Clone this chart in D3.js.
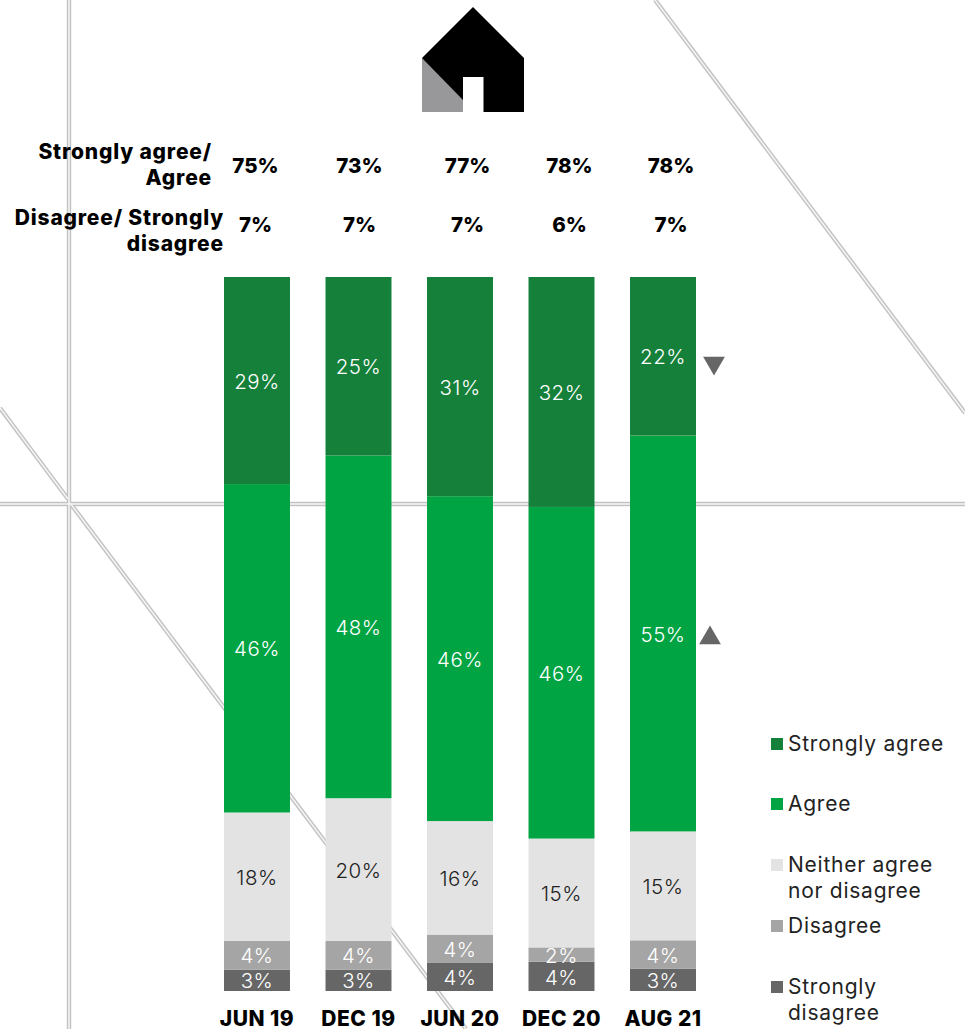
<!DOCTYPE html>
<html><head><meta charset="utf-8">
<script src="https://cdn.jsdelivr.net/npm/d3@7/dist/d3.min.js"></script>
<style>
html,body{margin:0;padding:0;background:#fff}
svg{display:block}
text{font-family:Inter,"Open Sans",sans-serif}
</style></head><body>
<svg id="c" width="965" height="1029"></svg>
<script>
const categories = ["JUN 19","DEC 19","JUN 20","DEC 20","AUG 21"];
const seriesNames = ["Strongly disagree","Disagree","Neither agree nor disagree","Agree","Strongly agree"];
const stronglyAgree = [29, 25, 30.7, 32.2, 22.2];
const agree = [46, 48, 45.5, 46.45, 55.45];
const neither = [18, 20, 15.9, 15.25, 15.25];
const disagree = [4, 4, 3.9, 2.0, 4.0];
const stronglyDisagree = [3, 3, 4.0, 4.1, 3.1];
const netAgree = ["75%","73%","77%","78%","78%"];
const netDisagree = ["7%","7%","7%","6%","7%"];

const colors = {"Strongly agree":"#15803a","Agree":"#00a443","Neither agree nor disagree":"#e3e3e3","Disagree":"#a5a5a5","Strongly disagree":"#666666"};
const labelColors = {"Strongly agree":"#fff","Agree":"#fff","Neither agree nor disagree":"#222","Disagree":"#fff","Strongly disagree":"#fff"};
const valuesBy = {"Strongly agree":stronglyAgree,"Agree":agree,"Neither agree nor disagree":neither,"Disagree":disagree,"Strongly disagree":stronglyDisagree};

const svg = d3.select("#c");
const x = d3.scaleBand().domain(categories).range([224,696]).paddingInner(0.35).paddingOuter(0);
const y = d3.scaleLinear().domain([0,100]).range([991,277]);

// background hairlines (double rule)
const rules = [[[69,0],[69,1029]],[[0,504],[965,504]],[[0,408],[68,499]],[[70,503],[466,1029]],[[655,0],[965,413]]];
const ln = d3.line();
const bg = svg.append("g");
bg.selectAll(".o").data(rules).join("path").attr("d",ln).attr("fill","none").attr("stroke","#c2c2c2").attr("stroke-width",4.4);
bg.selectAll(".i").data(rules).join("path").attr("d",ln).attr("fill","none").attr("stroke","#f4f4f4").attr("stroke-width",1.6);

// house icon
const icon = svg.append("g");
icon.append("path").attr("d",ln([[473,7],[524,58],[524,112],[422,112],[422,58]])).attr("fill","#000");
icon.append("path").attr("d",ln([[422,58],[463,100],[463,112],[422,112]])).attr("fill","#98989b");
icon.append("rect").attr("x",463).attr("y",77).attr("width",20.5).attr("height",35).attr("fill","#fff");

// stacked bars
const rows = categories.map((c,i)=>{const r={cat:c};seriesNames.forEach(s=>r[s]=valuesBy[s][i]);return r;});
const stacked = d3.stack().keys(seriesNames)(rows);
const layers = svg.append("g").selectAll("g").data(stacked).join("g");
layers.selectAll("rect").data(d=>d.map(p=>({p,key:d.key}))).join("rect")
  .attr("x",d=>x(d.p.data.cat)).attr("width",x.bandwidth())
  .attr("y",d=>y(d.p[1])).attr("height",d=>y(d.p[0])-y(d.p[1]))
  .attr("fill",d=>colors[d.key]);
layers.selectAll("text").data(d=>d.map(p=>({p,key:d.key}))).join("text")
  .attr("x",d=>x(d.p.data.cat)+x.bandwidth()/2)
  .attr("y",d=>(y(d.p[0])+y(d.p[1]))/2+0.8)
  .attr("dy","0.36em").attr("text-anchor","middle")
  .attr("font-size",20.5).attr("font-weight",300).attr("letter-spacing",0.5)
  .attr("fill",d=>labelColors[d.key])
  .text(d=>Math.round(d.p[1]-d.p[0])+"%");

// category axis
const ax = svg.append("g").attr("transform","translate(0,1018)")
  .call(d3.axisBottom(x).tickSize(0).tickPadding(0));
ax.select(".domain").remove();
ax.selectAll("text").attr("y",0).attr("dy","0.36em").attr("font-size",21).attr("font-weight",800)
  .attr("letter-spacing",0.5).attr("fill","#000").attr("font-family","Inter");

// net rows
const netOffsets = [-1.5,1,7.5,8,8];
const netRow = (vals,cy)=>svg.append("g").selectAll("text").data(vals).join("text")
  .attr("x",(d,i)=>x(categories[i])+x.bandwidth()/2+netOffsets[i]).attr("y",cy).attr("dy","0.36em")
  .attr("text-anchor","middle").attr("font-size",20.5).attr("font-weight",800).attr("fill","#000").text(d=>d);
netRow(netAgree,166); netRow(netDisagree,225);

const headers = [["Strongly agree/",212,151],["Agree",212,177],["Disagree/ Strongly",224,217],["disagree",224,243]];
svg.append("g").selectAll("text").data(headers).join("text")
  .attr("x",d=>d[1]).attr("y",d=>d[2]).attr("dy","0.36em").attr("text-anchor","end")
  .attr("font-size",21).attr("font-weight",800).attr("letter-spacing",0.82).attr("fill","#000").text(d=>d[0]);

// change markers
const sym = d3.symbol().type(d3.symbolTriangle).size(205);
svg.append("path").attr("d",sym).attr("transform","translate(714,363) rotate(180)").attr("fill","#666");
svg.append("path").attr("d",sym).attr("transform","translate(710,638)").attr("fill","#666");

// legend
const legendItems = [["Strongly agree",["Strongly agree"],744],["Agree",["Agree"],804],["Neither agree nor disagree",["Neither agree","nor disagree"],865],["Disagree",["Disagree"],926],["Strongly disagree",["Strongly","disagree"],987]];
const lg = svg.append("g").selectAll("g").data(legendItems).join("g");
lg.append("rect").attr("x",771).attr("y",d=>d[2]-6).attr("width",12).attr("height",12).attr("fill",d=>colors[d[0]]);
lg.each(function(d){
  d3.select(this).selectAll("text").data(d[1]).join("text")
    .attr("x",788).attr("y",(t,i)=>d[2]+i*26-0.3).attr("dy","0.36em")
    .attr("font-size",21).attr("font-weight",400).attr("letter-spacing",0.75).attr("fill","#222").text(t=>t);
});
</script>
</body></html>
